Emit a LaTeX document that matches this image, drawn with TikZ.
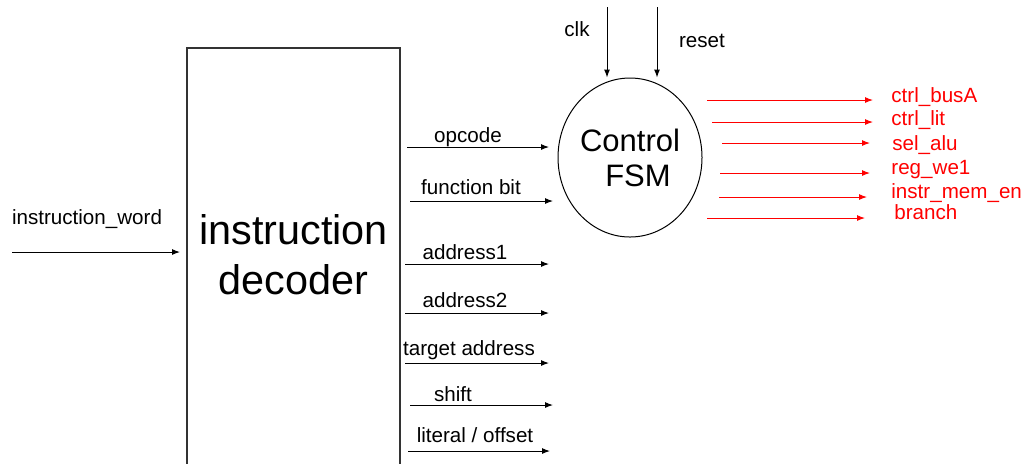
\documentclass[tikz,border=0pt]{standalone}
\usepackage{fontspec}
\setmainfont{Liberation Sans}
\usetikzlibrary{arrows.meta,shapes.geometric}
\tikzset{
  sig/.style={draw, line width=0.5pt, -{Latex[length=4pt,width=3pt]}},
  ctl/.style={sig, red},
  lbl/.style={inner sep=0pt, font=\fontsize{10.3}{12}\selectfont},
  ctllbl/.style={lbl, text=red, anchor=west},
}
\begin{document}
\begin{tikzpicture}[x=0.5pt, y=-0.5pt]
    \useasboundingbox (0,0) rectangle (1026,463);
    \clip (0,0) rectangle (1026,463);
    % decoder block (runs off the bottom) and control FSM
    \node[draw=black!80, line width=0.8pt, minimum width=106.5pt, minimum height=211pt] (decoder) at (293.5,259) {};
    \node[align=center, font=\fontsize{20.7}{25}\selectfont] (dectext) at (293.5,255) {instruction\\decoder};
    \node[draw, ellipse, line width=0.5pt, minimum width=72pt, minimum height=79.5pt, inner sep=0pt,
          align=center, font=\fontsize{15.5}{17.5}\selectfont] (fsm) at (630,157.5) {Control\\\hspace*{8pt}FSM};
    % input word
    \coordinate (iw0) at (12,252);
    \coordinate (iw1) at (180,252);
    \draw[sig] (iw0) -- (iw1);
    \node[lbl] (iwlbl) at (87,219) {instruction\_word};
    % clock and reset
    \coordinate (clk0) at (607,7);
    \coordinate (rst0) at (657,7);
    \draw[sig] (clk0) -- (clk0 |- fsm.north);
    \draw[sig] (rst0) -- (rst0 |- fsm.north);
    \node[lbl] (clklbl) at (577,29) {clk};
    \node[lbl] (rstlbl) at (702,41) {reset};
    % decoder outputs
    \coordinate (d1a) at (407,147);
    \coordinate (d1b) at (549,147);
    \coordinate (d2a) at (410,201);
    \coordinate (d2b) at (553,201);
    \coordinate (d3a) at (405,264);
    \coordinate (d3b) at (549,264);
    \coordinate (d4a) at (405,313);
    \coordinate (d4b) at (549,313);
    \coordinate (d5a) at (405,363);
    \coordinate (d5b) at (549,363);
    \coordinate (d6a) at (410,405);
    \coordinate (d6b) at (553,405);
    \coordinate (d7a) at (408,451);
    \coordinate (d7b) at (550,451);
    \draw[sig] (d1a) -- (d1b);
    \draw[sig] (d2a) -- (d2b);
    \draw[sig] (d3a) -- (d3b);
    \draw[sig] (d4a) -- (d4b);
    \draw[sig] (d5a) -- (d5b);
    \draw[sig] (d6a) -- (d6b);
    \draw[sig] (d7a) -- (d7b);
    \node[lbl] (d1lbl) at (468,137) {opcode};
    \node[lbl] (d2lbl) at (471,187) {function bit};
    \node[lbl] (d3lbl) at (465,252) {address1};
    \node[lbl] (d4lbl) at (465,300) {address2};
    \node[lbl] (d5lbl) at (469,350) {target address};
    \node[lbl] (d6lbl) at (453,394) {shift};
    \node[lbl] (d7lbl) at (475,435) {literal / offset};
    % control outputs
    \coordinate (c1a) at (707,100);
    \coordinate (c1b) at (873,100);
    \coordinate (c2a) at (712,122);
    \coordinate (c2b) at (873,122);
    \coordinate (c3a) at (722,143);
    \coordinate (c3b) at (870,143);
    \coordinate (c4a) at (720,173);
    \coordinate (c4b) at (870,173);
    \coordinate (c5a) at (719,197);
    \coordinate (c5b) at (867,197);
    \coordinate (c6a) at (707,218);
    \coordinate (c6b) at (865,218);
    \draw[ctl] (c1a) -- (c1b);
    \draw[ctl] (c2a) -- (c2b);
    \draw[ctl] (c3a) -- (c3b);
    \draw[ctl] (c4a) -- (c4b);
    \draw[ctl] (c5a) -- (c5b);
    \draw[ctl] (c6a) -- (c6b);
    \node[ctllbl] (c1lbl) at (891,97) {ctrl\_busA};
    \node[ctllbl] (c2lbl) at (891,120) {ctrl\_lit};
    \node[ctllbl] (c3lbl) at (892,145) {sel\_alu};
    \node[ctllbl] (c4lbl) at (891,170) {reg\_we1};
    \node[ctllbl] (c5lbl) at (891,193) {instr\_mem\_en};
    \node[ctllbl] (c6lbl) at (894,212) {branch};
\end{tikzpicture}
\end{document}
